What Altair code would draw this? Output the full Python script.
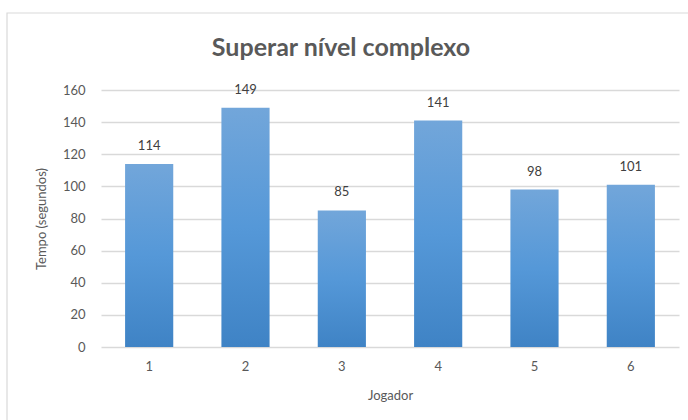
import altair as alt
import pandas as pd

jogadores = ["1", "2", "3", "4", "5", "6"]
tempos = [114, 149, 85, 141, 98, 101]
y_ticks = [0, 20, 40, 60, 80, 100, 120, 140, 160]
titulo = "Superar nível complexo"

df = pd.DataFrame({"Jogador": jogadores, "Tempo": tempos})

FONT = "Lato"
GRAY = "#595959"

x_enc = alt.X(
    "Jogador:N",
    sort=jogadores,
    scale=alt.Scale(paddingInner=0.5, paddingOuter=0.25),
    axis=alt.Axis(
        title="Jogador", labelAngle=0, domain=False, ticks=False,
        labelPadding=13, titlePadding=16,
    ),
)
y_enc = alt.Y(
    "Tempo:Q",
    scale=alt.Scale(domain=[0, 160], nice=False),
    axis=alt.Axis(
        title="Tempo (segundos)", values=y_ticks, domain=False, ticks=False,
        labelPadding=16, titlePadding=14, grid=True, labelOverlap=False,
    ),
)

base = alt.Chart(df).encode(x=x_enc, y=y_enc)

# chart border frame (decorative outline only)
frame = alt.Chart(df).mark_rect(filled=False, stroke="#d9d9d9", strokeWidth=1.2).encode(
    x=alt.value(-94), x2=alt.value(600), y=alt.value(-77), y2=alt.value(340)
).transform_filter(alt.datum.Jogador == "1")

# chart title drawn as text, centred on the whole chart
title = alt.Chart(df).mark_text(
    font=FONT, fontSize=25, fontWeight="bold", color=GRAY, baseline="middle"
).encode(
    x=alt.value(240), y=alt.value(-42), text=alt.value(titulo)
).transform_filter(alt.datum.Jogador == "1")

bars = base.mark_bar(
    color=alt.Gradient(
        gradient="linear",
        stops=[
            alt.GradientStop(color="#72a6da", offset=0),
            alt.GradientStop(color="#5598d8", offset=0.5),
            alt.GradientStop(color="#3f83c5", offset=1),
        ],
        x1=0, x2=0, y1=0, y2=1,
    )
)

labels = base.mark_text(dy=-18, fontSize=13, color="#404040", font=FONT).encode(
    text="Tempo:Q",
)

chart = (
    alt.layer(frame, bars, labels, title)
    .properties(
        width=578,
        height=257,
        autosize=alt.AutoSizeParams(type="none"),
        padding={"left": 101, "top": 90, "right": 9, "bottom": 73},
    )
    .configure_view(stroke=None)
    .configure_axis(
        labelFont=FONT, titleFont=FONT, labelFontSize=13, titleFontSize=13,
        labelColor=GRAY, titleColor=GRAY, titleFontWeight="normal",
        gridColor="#d9d9d9", gridWidth=1.3,
    )
    .configure_axisX(grid=False)
)

chart.save("out.html", embed_options={"renderer": "svg", "actions": False})
